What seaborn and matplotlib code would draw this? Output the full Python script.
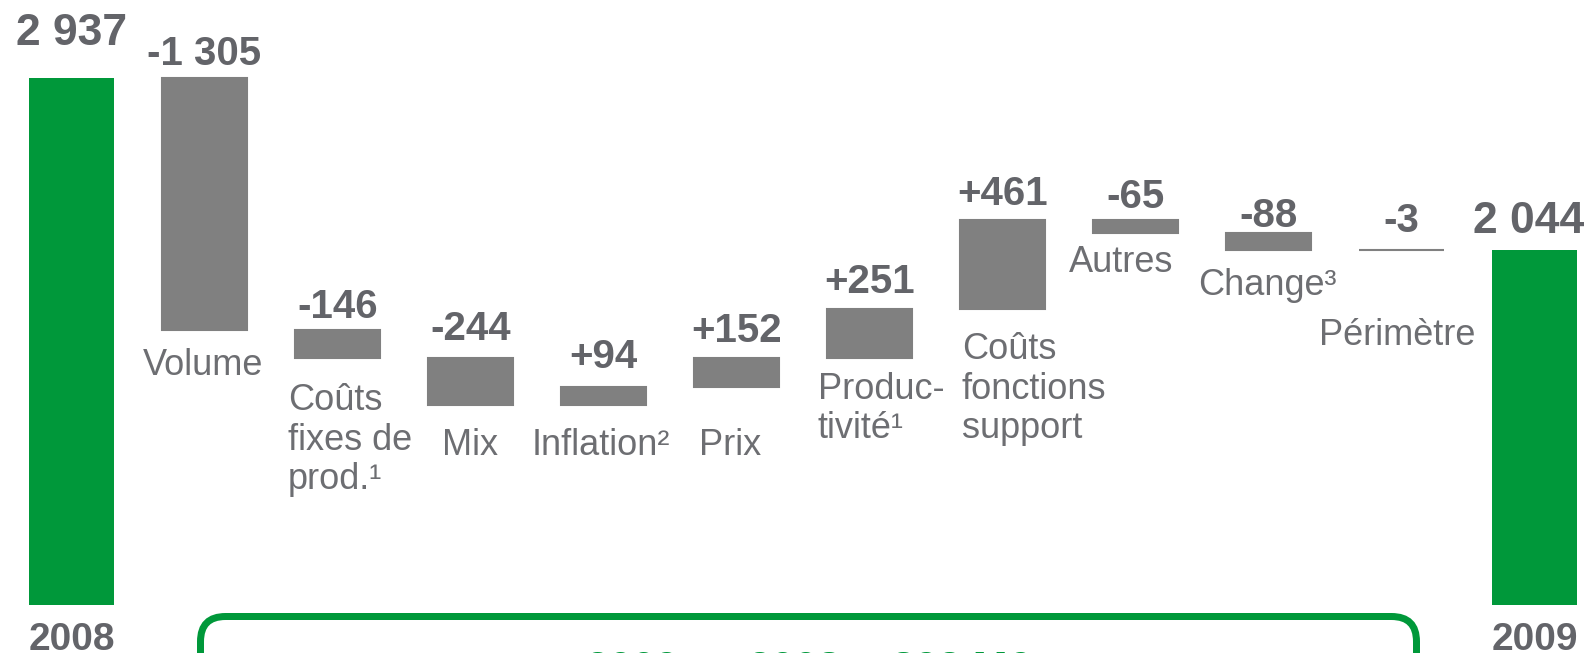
import numpy as np
import pandas as pd
import matplotlib
matplotlib.use('Agg')
import matplotlib.pyplot as plt
from matplotlib import transforms
from matplotlib.patches import FancyBboxPatch
import seaborn as sns

# Résultat opérationnel 2008 -> 2009 (M€)
start_value = 2937
end_value = 2044
years = ['2008', '2009']
steps = ['Volume', 'Coûts\nfixes de\nprod.¹', 'Mix', 'Inflation²', 'Prix',
         'Produc-\ntivité¹', 'Coûts\nfonctions\nsupport', 'Autres', 'Change³', 'Périmètre']
deltas = [-1305, -146, -244, 94, 152, 251, 461, -65, -88, -3]
box_text = '2009 vs 2008 : -893 M€'

GREEN = '#00983a'
GREY = '#808080'
VALUE_COLOR = '#636469'
LABEL_COLOR = '#6d6e72'

# layout of the labels (pixels)
value_gap = [33, 13, 12, 18, 19, 16, 16, 15, 12, 6, 18, 17]
value_dx = [0, 0, 0, 0, 0, 0, 0, 0, 0, 0, 0, -6]
label_ha = ['center', 'left', 'center', 'center', 'center', 'left', 'left', 'center', 'center', 'center']
label_dx = [-1, -49.5, 0, -3, -6, -51.5, -40.5, -14, -1, -4]
label_dy = [18, 25, 23, 23, 41, 14, 23, 12, 18, 68]

sns.set_theme(style='white')
plt.rcParams['font.family'] = ['Liberation Sans', 'DejaVu Sans']

names = [years[0]] + steps + [years[1]]
before = start_value + np.concatenate([[0], np.cumsum(deltas)[:-1]])
after = start_value + np.cumsum(deltas)
bottoms = np.minimum(before, after)
tops = np.maximum(before, after)

totals = pd.DataFrame({'name': [years[0], years[1]], 'value': [start_value, end_value]})
moves = pd.DataFrame({'name': steps, 'height': np.abs(deltas), 'bottom': bottoms})

fig = plt.figure(figsize=(15.89, 6.53), dpi=100)
ax = fig.add_axes([0, 48 / 653, 1, 605 / 653])

sns.barplot(data=totals, x='name', y='value', order=names, color=GREEN, saturation=1,
            width=0.64, errorbar=None, ax=ax, linewidth=0)
sns.barplot(data=moves, x='name', y='height', order=names, bottom=moves['bottom'].to_numpy(),
            color=GREY, saturation=1, width=0.64, errorbar=None, ax=ax,
            edgecolor=GREY, linewidth=1.5)

ax.set_xlim(-0.5376, 11.41)
ax.set_ylim(205, 3342)
ax.axis('off')

def fmt(v, sign):
    s = f'{v:+,}' if sign else f'{v:,}'
    return s.replace(',', ' ')

# value labels above the bars
label_tops = [start_value] + list(tops) + [end_value]
label_txt = [fmt(start_value, False)] + [fmt(d, True) for d in deltas] + [fmt(end_value, False)]
for i, (top, txt) in enumerate(zip(label_tops, label_txt)):
    big = i in (0, len(names) - 1)
    ax.annotate(txt, (i, top), xytext=(value_dx[i] * 0.72, value_gap[i] * 0.72),
                textcoords='offset points', ha='center', va='baseline',
                fontsize=32 if big else 29, fontweight='bold', color=VALUE_COLOR,
                annotation_clip=False)

# category labels below the floating bars
for i, name in enumerate(steps):
    ax.annotate(name, (i + 1, bottoms[i]), xytext=(label_dx[i] * 0.72, -label_dy[i] * 0.72),
                textcoords='offset points', ha=label_ha[i], va='top', fontsize=26,
                color=LABEL_COLOR, linespacing=1.17, annotation_clip=False)

# years under the green bars
trans = transforms.blended_transform_factory(ax.transData, fig.transFigure)
for i, y in zip((0, len(names) - 1), years):
    ax.text(i, 3.5 / 653, y, transform=trans, ha='center', va='baseline', fontsize=28,
            fontweight='bold', color=VALUE_COLOR, clip_on=False)

# rounded summary box, cut by the bottom of the slide
box = FancyBboxPatch((200.5, -40), 1216, 76.5, boxstyle='round,pad=0,rounding_size=25',
                     transform=transforms.IdentityTransform(), fill=False,
                     edgecolor=GREEN, linewidth=5.04)
fig.add_artist(box)
fig.text(808 / 1589, (653 - 681) / 653, box_text, ha='center', va='baseline', fontsize=30,
         fontweight='bold', color=GREEN)

fig.savefig('out.png', dpi=100)
